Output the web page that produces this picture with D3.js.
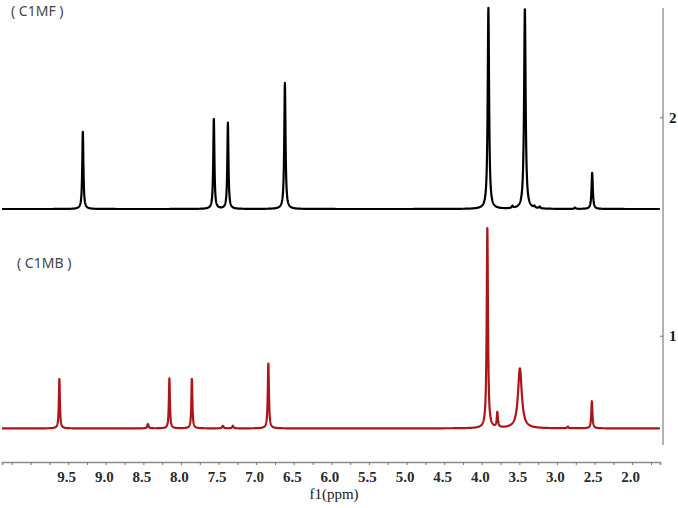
<!DOCTYPE html>
<html>
<head>
<meta charset="utf-8">
<script src="https://cdn.jsdelivr.net/npm/d3@7/dist/d3.min.js"></script>
<style>
  html, body { margin: 0; padding: 0; background: #fff; }
  svg { display: block; }
  .serif { font-family: "Liberation Serif", "DejaVu Serif", "Times New Roman", serif !important; }
</style>
</head>
<body>
<svg id="chart" width="678" height="508"></svg>
<script>
// ---- Data ----
const xTickLabels = [9.5, 9.0, 8.5, 8.0, 7.5, 7.0, 6.5, 6.0, 5.5, 5.0, 4.5, 4.0, 3.5, 3.0, 2.5, 2.0];
const yTickLabels = [1, 2];
const seriesNames = ["( C1MF )", "( C1MB )"];
const seriesOffsets = [1.58, 0.576];
// peaks of C1MF (top, black): position ppm, height, half-width
const c1mfPpm    = [9.305, 7.563, 7.376, 6.618, 3.912, 3.427, 2.532, 3.592, 3.300, 3.230, 2.760];
const c1mfHeight = [0.357, 0.416, 0.394, 0.577, 0.920, 0.920, 0.165, 0.010, 0.008, 0.008, 0.006];
const c1mfWidth  = [0.009, 0.009, 0.009, 0.010, 0.011, 0.012, 0.010, 0.010, 0.010, 0.010, 0.010];
// peaks of C1MB (bottom, red)
const c1mbPpm    = [9.617, 8.154, 7.855, 6.838, 3.926, 3.793, 3.493, 2.536, 8.440, 7.443, 7.310, 2.855];
const c1mbHeight = [0.229, 0.229, 0.229, 0.297, 0.915, 0.069, 0.275, 0.124, 0.020, 0.012, 0.012, 0.008];
const c1mbWidth  = [0.008, 0.008, 0.008, 0.009, 0.010, 0.009, 0.030, 0.009, 0.010, 0.010, 0.010, 0.010];

// ---- Layout ----
const svg = d3.select("#chart");
const x = d3.scaleLinear().domain([10.38, 1.63]).range([2, 660]);
const y = d3.scaleLinear().domain([0.5, 2.5]).range([445, 8]);

function spectrum(pos, hts, wds, offset) {
  const pts = [];
  const [d0, d1] = x.domain();
  for (let p = d0; p >= d1; p -= 0.002) {
    let v = offset;
    for (let i = 0; i < pos.length; i++) {
      const d = p - pos[i], g = wds[i];
      v += hts[i] * g * g / (d * d + g * g);
    }
    pts.push([p, v]);
  }
  return pts;
}

const line = d3.line().x(d => x(d[0])).y(d => y(d[1]));

const series = [
  {name: seriesNames[0], data: spectrum(c1mfPpm, c1mfHeight, c1mfWidth, seriesOffsets[0]), color: "#000000", lx: 11, ly: 16},
  {name: seriesNames[1], data: spectrum(c1mbPpm, c1mbHeight, c1mbWidth, seriesOffsets[1]), color: "#ad1519", lx: 17, ly: 268}
];

// ---- Bottom axis ----
const axisY = 462;
const xAxisTicks = d3.range(10.25, 1.7, -0.25);
const xAxis = d3.axisBottom(x)
  .tickValues(xAxisTicks)
  .tickSize(3)
  .tickFormat(d => xTickLabels.some(t => Math.abs(t - d) < 1e-6) ? d.toFixed(1) : "");
const gx = svg.append("g").attr("transform", `translate(0,${axisY})`).call(xAxis);
gx.attr("font-family", null);
gx.select(".domain").attr("stroke", "#8a8a8a").attr("stroke-width", 1.5);
gx.selectAll(".tick line").attr("stroke", "#777").attr("stroke-width", 1);
gx.selectAll(".tick text")
  .attr("class", "serif")
  .style("font-size", "15px").style("font-weight", "bold").attr("fill", "#2a2a2a")
  .attr("dy", "0.95em").attr("dx", -2);

svg.append("text")
  .attr("class", "serif")
  .attr("x", 334).attr("y", 499).attr("text-anchor", "middle")
  .style("font-size", "15px").attr("fill", "#1a1a1a")
  .text("f1(ppm)");

// ---- Right axis ----
const yAxis = d3.axisRight(y).tickValues(yTickLabels).tickSize(-3).tickFormat(d3.format("d"));
const gy = svg.append("g").attr("transform", "translate(663,0)").call(yAxis);
gy.attr("font-family", null);
gy.select(".domain").attr("stroke", "#9a9a9a").attr("stroke-width", 1.5).attr("d", `M0,${y(2.5)}V${y(0.5)}`);
gy.selectAll(".tick line").attr("stroke", "#777");
gy.selectAll(".tick text")
  .attr("class", "serif")
  .attr("x", 6)
  .style("font-size", "15px").style("font-weight", "bold").attr("fill", "#1a1a1a");

// ---- Spectra ----
series.forEach(s => {
  svg.append("path")
    .datum(s.data)
    .attr("fill", "none")
    .attr("stroke", s.color)
    .attr("stroke-width", 2.2)
    .attr("stroke-linejoin", "round")
    .attr("d", line);
  svg.append("text")
    .attr("x", s.lx).attr("y", s.ly)
    .style("font-family", "'Noto Sans', 'DejaVu Sans', sans-serif")
    .style("font-size", "14px").attr("fill", "#444")
    .attr("xml:space", "preserve")
    .style("white-space", "pre")
    .text(s.name);
});
</script>
</body>
</html>
